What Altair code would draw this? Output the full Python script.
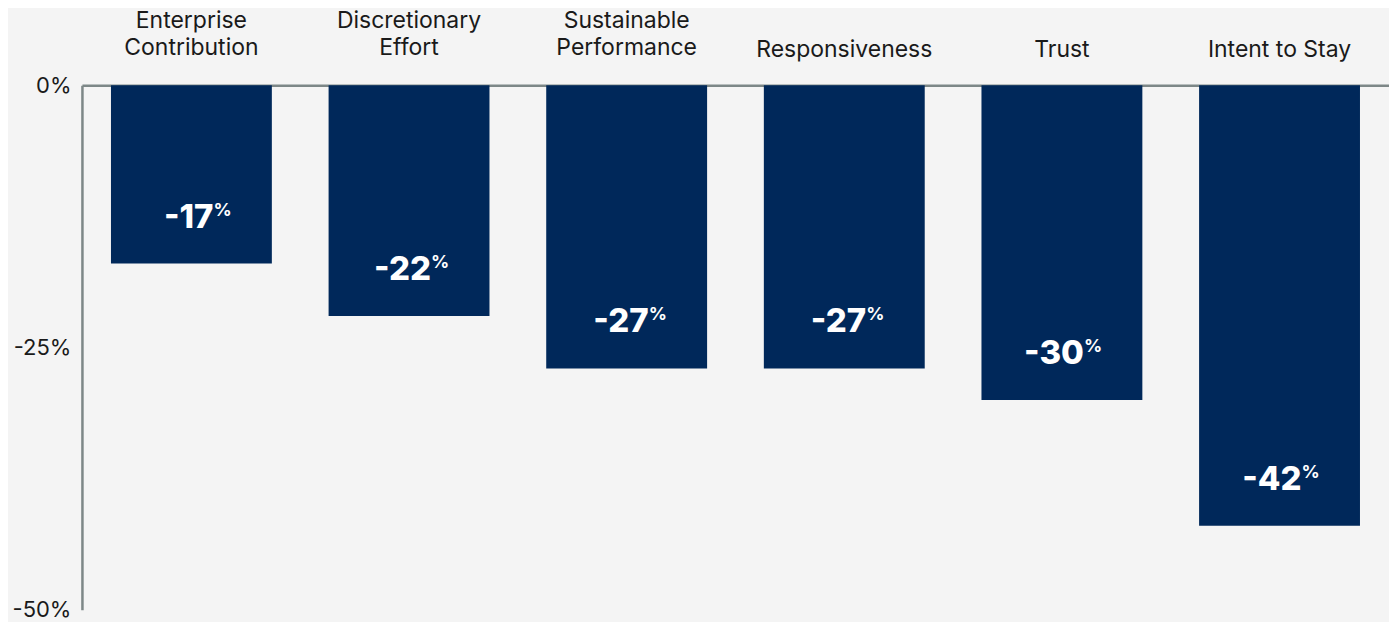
import altair as alt
import pandas as pd

categories = ["Enterprise\nContribution", "Discretionary\nEffort", "Sustainable\nPerformance",
              "Responsiveness", "Trust", "Intent to Stay"]
values = [-17, -22, -27, -27, -30, -42]
labels = ["-17", "-22", "-27", "-27", "-30", "-42"]

df = pd.DataFrame({"cat": categories, "val": values, "lab": labels})

FONT = "Inter"
NAVY = "#00285a"
AXIS_GRAY = "#7d8787"
TXT = "#1a1a1a"

x = alt.X("cat:N", sort=categories,
          scale=alt.Scale(paddingInner=0.26, paddingOuter=0.133),
          axis=alt.Axis(orient="top", title=None, ticks=False, labels=False,
                        domainColor=AXIS_GRAY, domainWidth=2.5))
y = alt.Y("val:Q", scale=alt.Scale(domain=[-50, 0], nice=False),
          axis=alt.Axis(title=None, values=[0, -25, -50], ticks=False, grid=False,
                        labelExpr="datum.value + '%'",
                        labelFont=FONT, labelFontSize=22, labelColor=TXT,
                        labelPadding=11, domainColor=AXIS_GRAY, domainWidth=2.5))

xs = alt.X("cat:N", sort=categories)

bars = alt.Chart(df).mark_bar(color=NAVY, size=161).encode(x=x, y=y)

two_line = alt.Chart(df).transform_filter("indexof(datum.cat, '\\n') >= 0").mark_text(
    font=FONT, fontSize=23, color=TXT, align="center", baseline="alphabetic",
    lineBreak="\n", lineHeight=27).encode(x=xs, y=alt.value(-57), text="cat:N")

one_line = alt.Chart(df).transform_filter("indexof(datum.cat, '\\n') < 0").mark_text(
    font=FONT, fontSize=23, color=TXT, align="center", baseline="alphabetic").encode(
    x=xs, y=alt.value(-28), text="cat:N")

nums = alt.Chart(df).mark_text(font=FONT, fontSize=33, fontWeight=800, color="white",
                               align="right", baseline="middle", dx=22, dy=-46).encode(
    x=xs, y="val:Q", text="lab:N")

pct = alt.Chart(df).mark_text(font=FONT, fontSize=18, fontWeight=700, color="white",
                              align="left", baseline="middle", dx=22, dy=-53).encode(
    x=xs, y="val:Q", text=alt.value("%"))

chart = (bars + two_line + one_line + nums + pct).properties(
    width=1308, height=525, background="#f4f4f4",
    autosize=alt.AutoSizeParams(type="none"),
    padding={"left": 74, "top": 77, "right": 0, "bottom": 12},
).configure_view(stroke=None)

chart.save("out.html", embed_options={"renderer": "svg", "actions": False})
